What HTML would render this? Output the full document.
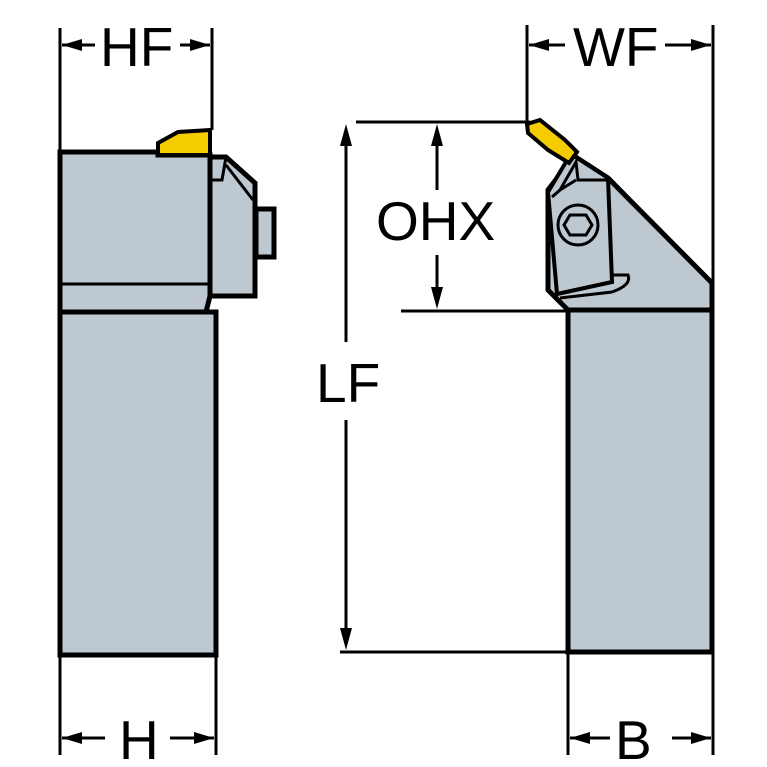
<!DOCTYPE html>
<html><head><style>
html,body{margin:0;padding:0;background:#fff;}
svg{display:block;}
text{font-family:"Liberation Sans",Arial,sans-serif;font-size:55px;fill:#000;}
</style></head><body>
<svg width="767" height="767" viewBox="0 0 767 767" xmlns="http://www.w3.org/2000/svg">
<g fill="#bdc8d1" stroke="#000" stroke-width="5" stroke-linejoin="miter">
<!-- Left view -->
<rect x="60" y="312" width="156" height="343"/>
<polygon points="60,152 158,152 158,155 210,155 210,296 206,312 60,312"/>
<line x1="60" y1="284" x2="210" y2="284" stroke-width="3"/>
<polygon points="210,157 226,157 255,183 255,296 210,296"/>
<polyline points="210,180 222,180 226,157" fill="none" stroke-width="3"/>
<line x1="226" y1="165" x2="253" y2="200" stroke-width="3"/>
<rect x="256" y="209" width="18" height="48"/>
<polygon points="158,143 178,132 210,130 210,155 158,155" fill="#f5cc00" stroke-width="4"/>
<!-- Right view -->
<rect x="568" y="310" width="144" height="342"/>
<polygon points="574,156 608,178 712,283 712,310 568,310 548,290 548,190"/>
<polygon points="548,192 566,162 574,156 608,178 612,282 557,294" fill="#bdc8d1" stroke-width="4"/>
<polyline points="552,197 560,190 576,162 578,180 608,180" fill="none" stroke-width="3"/>
<line x1="560" y1="190" x2="576" y2="180" stroke-width="3"/>
<path d="M560,298 L612,292 Q632,285 628,275 L612,275" fill="none" stroke-width="3"/>
<circle cx="578" cy="225" r="20" stroke-width="3"/>
<polygon points="570,215 586,215 592,225 586,235 570,235 564,225" stroke-width="3"/>
<polygon points="527,124 540,120 565,140 577,152 569,163 548,150 528,133" fill="#f5cc00" stroke-width="4"/>
</g>
<g stroke="#000" stroke-width="3" fill="none">
<line x1="60" y1="28" x2="60" y2="152"/>
<line x1="212" y1="28" x2="212" y2="130"/>
<line x1="60" y1="655" x2="60" y2="755"/>
<line x1="216" y1="655" x2="216" y2="755"/>
<line x1="527" y1="25" x2="527" y2="122"/>
<line x1="713" y1="25" x2="713" y2="755"/>
<line x1="568" y1="652" x2="568" y2="755"/>
<line x1="356" y1="122" x2="530" y2="122"/>
<line x1="401" y1="311" x2="568" y2="311"/>
<line x1="340" y1="652" x2="568" y2="652"/>
<line x1="346" y1="130" x2="346" y2="342"/>
<line x1="346" y1="420" x2="346" y2="645"/>
<line x1="437" y1="130" x2="437" y2="190"/>
<line x1="437" y1="255" x2="437" y2="303"/>
<line x1="62" y1="45" x2="95" y2="45"/>
<line x1="180" y1="45" x2="210" y2="45"/>
<line x1="62" y1="738" x2="105" y2="738"/>
<line x1="170" y1="738" x2="214" y2="738"/>
<line x1="529" y1="45" x2="565" y2="45"/>
<line x1="665" y1="45" x2="711" y2="45"/>
<line x1="570" y1="738" x2="610" y2="738"/>
<line x1="672" y1="738" x2="711" y2="738"/>
</g>
<g fill="#000">
<polygon points="62,45 82,39 82,51"/>
<polygon points="210,45 190,39 190,51"/>
<polygon points="62,738 82,732 82,744"/>
<polygon points="214,738 194,732 194,744"/>
<polygon points="529,45 549,39 549,51"/>
<polygon points="711,45 691,39 691,51"/>
<polygon points="570,738 590,732 590,744"/>
<polygon points="711,738 691,732 691,744"/>
<polygon points="346,124 340,146 352,146"/>
<polygon points="346,650 340,628 352,628"/>
<polygon points="437,124 431,146 443,146"/>
<polygon points="437,309 431,287 443,287"/>
</g>
<text x="100" y="66">HF</text>
<text x="573" y="66">WF</text>
<text x="119" y="759">H</text>
<text x="615" y="759">B</text>
<text x="376" y="240">OHX</text>
<text x="316" y="402">LF</text>
</svg>
</body></html>
